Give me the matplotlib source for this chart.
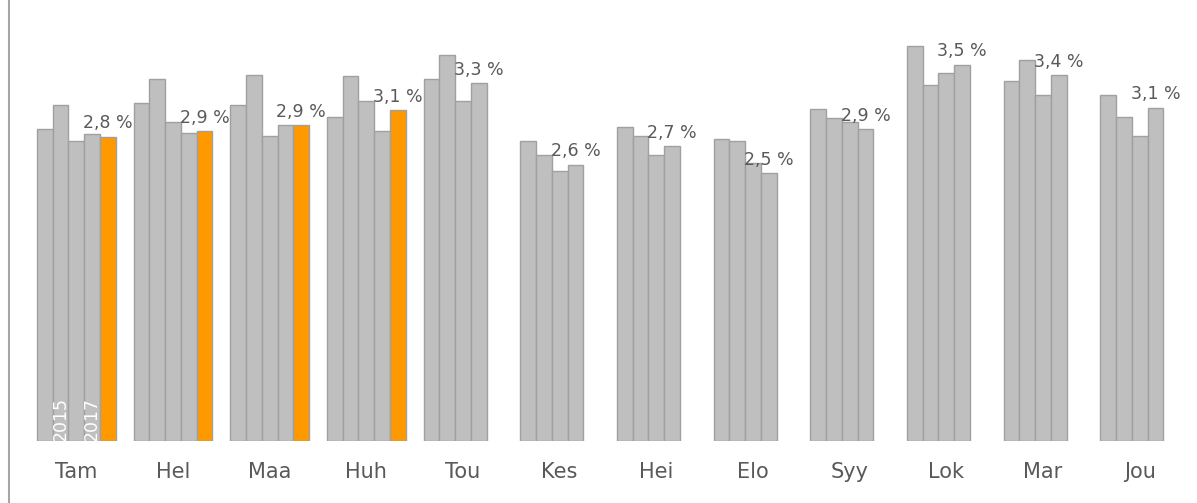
import numpy as np
import matplotlib.pyplot as plt
from matplotlib.lines import Line2D

months = ['Tam', 'Hel', 'Maa', 'Huh', 'Tou', 'Kes', 'Hei', 'Elo', 'Syy', 'Lok', 'Mar', 'Jou']
years = ['2014', '2015', '2016', '2017', '2018']

v2014 = [2.90, 3.14, 3.12, 3.01, 3.37, 2.79, 2.92, 2.81, 3.09, 3.67, 3.35, 3.22]
v2015 = [3.12, 3.37, 3.40, 3.39, 3.59, 2.66, 2.84, 2.79, 3.00, 3.31, 3.54, 3.01]
v2016 = [2.79, 2.97, 2.84, 3.16, 3.16, 2.51, 2.66, 2.58, 2.97, 3.42, 3.22, 2.84]
v2017 = [2.85, 2.86, 2.94, 2.88, 3.33, 2.57, 2.74, 2.49, 2.90, 3.50, 3.40, 3.10]
v2018 = [2.83, 2.88, 2.94, 3.08, np.nan, np.nan, np.nan, np.nan, np.nan, np.nan, np.nan, np.nan]

series = [v2014, v2015, v2016, v2017, v2018]
bar_colors = ['#bfbfbf', '#bfbfbf', '#bfbfbf', '#bfbfbf', '#ff9900']
text_col = '#595959'

fig = plt.figure(figsize=(11.97, 5.03), dpi=100)
ax = fig.add_axes([28 / 1197, 62 / 503, 1160 / 1197, 441 / 503])

x = np.arange(len(months))
w = 0.163
for k, vals in enumerate(series):
    pos = x - 2 * w + k * w
    ax.bar(pos, vals, width=w, color=bar_colors[k], edgecolor='#a0a0a0', linewidth=1.0)

# label with latest value of each month
for i in range(len(months)):
    k = 4 if not np.isnan(v2018[i]) else 3
    val = series[k][i]
    ax.annotate(f'{val:.1f} %'.replace('.', ','), xy=(x[i] - 2 * w + k * w, val),
                xytext=(0, 3), textcoords='offset points', ha='center', va='bottom',
                fontsize=12.5, color=text_col)

# year markers inside first group
for k in (1, 3):
    ax.text(x[0] - 2 * w + k * w, 0.0, years[k], rotation=90, ha='center', va='bottom',
            color='white', fontsize=12.5)

ax.set_xlim(-0.5, 11.5)
ax.set_ylim(0, 4.1)
ax.set_yticks([])
ax.set_xticks(x)
ax.set_xticklabels(months, fontsize=15, color=text_col)
ax.tick_params(axis='x', length=0, pad=15)
for s in ax.spines.values():
    s.set_visible(False)

fig.add_artist(Line2D([8.5 / 1197, 8.5 / 1197], [0, 1], color='#a6a6a6', linewidth=1.5))

fig.savefig('out.png', dpi=100)
